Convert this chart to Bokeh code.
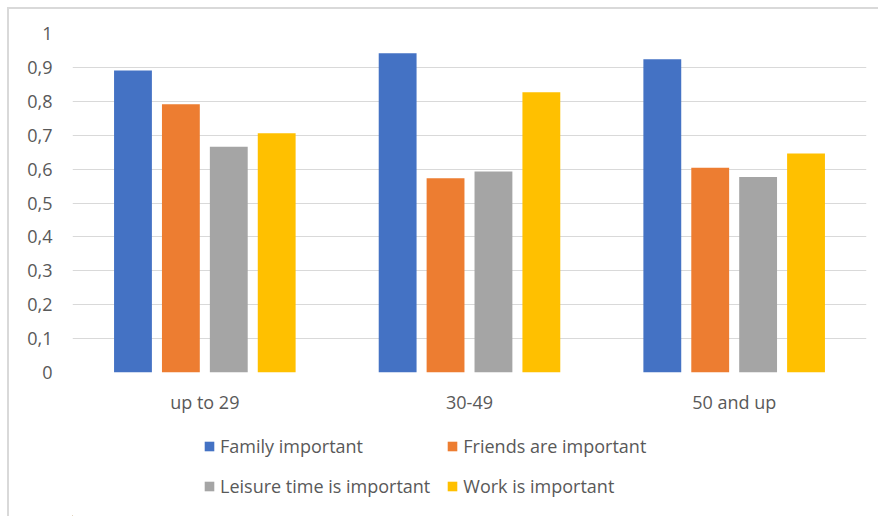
from bokeh.plotting import figure
from bokeh.layouts import column
from bokeh.models import (ColumnDataSource, FactorRange, Legend, LegendItem,
                          FixedTicker, CustomJSTickFormatter)
from bokeh.transform import dodge
from bokeh.embed import file_html
from bokeh.resources import INLINE

# Share of respondents saying each life domain is important, by age group
age_groups = ["up to 29", "30-49", "50 and up"]
family = [0.891, 0.942, 0.924]
friends = [0.791, 0.573, 0.604]
leisure = [0.666, 0.593, 0.577]
work = [0.706, 0.827, 0.646]

series_names = ["Family important", "Friends are important",
                "Leisure time is important", "Work is important"]
y_ticks = [0, 0.1, 0.2, 0.3, 0.4, 0.5, 0.6, 0.7, 0.8, 0.9, 1.0]

colors = ["#4472C4", "#ED7D31", "#A5A5A5", "#FFC000"]
text_color = "#595959"
grid_color = "#D9D9D9"
font = "Open Sans"
font_size = "18px"

source = ColumnDataSource(dict(age=age_groups, family=family, friends=friends,
                               leisure=leisure, work=work))

# --- bar chart -------------------------------------------------------------
p = figure(
    x_range=FactorRange(factors=age_groups, range_padding=0),
    y_range=(0, 1.0),
    width=869, height=411,
    output_backend="svg", toolbar_location=None,
    min_border_left=63, min_border_right=12,
    min_border_top=24, min_border_bottom=48,
)
p.outline_line_color = None
p.background_fill_color = "white"
p.border_fill_color = "white"

step = 0.181
bar_w = 0.143
fields = ["family", "friends", "leisure", "work"]
for i, (field, col) in enumerate(zip(fields, colors)):
    p.vbar(x=dodge("age", (i - 1.5) * step, range=p.x_range), top=field,
           width=bar_w, source=source, fill_color=col, line_color=None)

# Axes styled like a plain office chart: no lines, no ticks, grey labels
p.yaxis.ticker = FixedTicker(ticks=y_ticks)
p.yaxis.formatter = CustomJSTickFormatter(
    code="return tick === 0 ? '0' : (Math.abs(tick - 1) < 1e-9 ? '1' : tick.toFixed(1).replace('.', ','));")
for ax in (p.xaxis, p.yaxis):
    ax.axis_line_color = None
    ax.major_tick_line_color = None
    ax.minor_tick_line_color = None
    ax.major_tick_out = 0
    ax.major_tick_in = 0
    ax.minor_tick_out = 0
    ax.major_label_text_color = text_color
    ax.major_label_text_font = font
    ax.major_label_text_font_size = font_size
p.yaxis.major_label_standoff = 20
p.xaxis.major_label_standoff = 17

p.ygrid.grid_line_color = grid_color
p.ygrid.grid_line_width = 1
p.xgrid.grid_line_color = None

# --- legend strip under the chart -----------------------------------------
lg = figure(
    width=869, height=96, x_range=(0, 869), y_range=(0, 96),
    x_axis_type=None, y_axis_type=None,
    output_backend="svg", toolbar_location=None,
    min_border=0,
)
lg.outline_line_color = None
lg.grid.grid_line_color = None
lg.background_fill_color = "white"
lg.border_fill_color = "white"

# swatch renderers sit outside the visible range; only their legend glyphs show
swatches = [lg.vbar(x=[-1000], top=[1], width=1, fill_color=c, line_color=None)
            for c in colors]

legend = Legend(
    items=[LegendItem(label=n, renderers=[r]) for n, r in zip(series_names, swatches)],
    ncols=2,
    location=(131, 18),
    orientation="horizontal",
    padding=0, margin=0, spacing=16,
    label_height=20, glyph_height=12, glyph_width=12, label_standoff=5,
    label_text_font=font, label_text_font_size=font_size, label_text_color=text_color,
    border_line_color=None, background_fill_alpha=0,
)
lg.add_layout(legend, "center")

layout = column(p, lg, spacing=0, margin=(7, 0, 0, 7))
layout.styles = {"border-top": "2px solid #D9D9D9", "border-left": "2px solid #D9D9D9"}

open("out.html", "w").write(file_html(layout, INLINE))
